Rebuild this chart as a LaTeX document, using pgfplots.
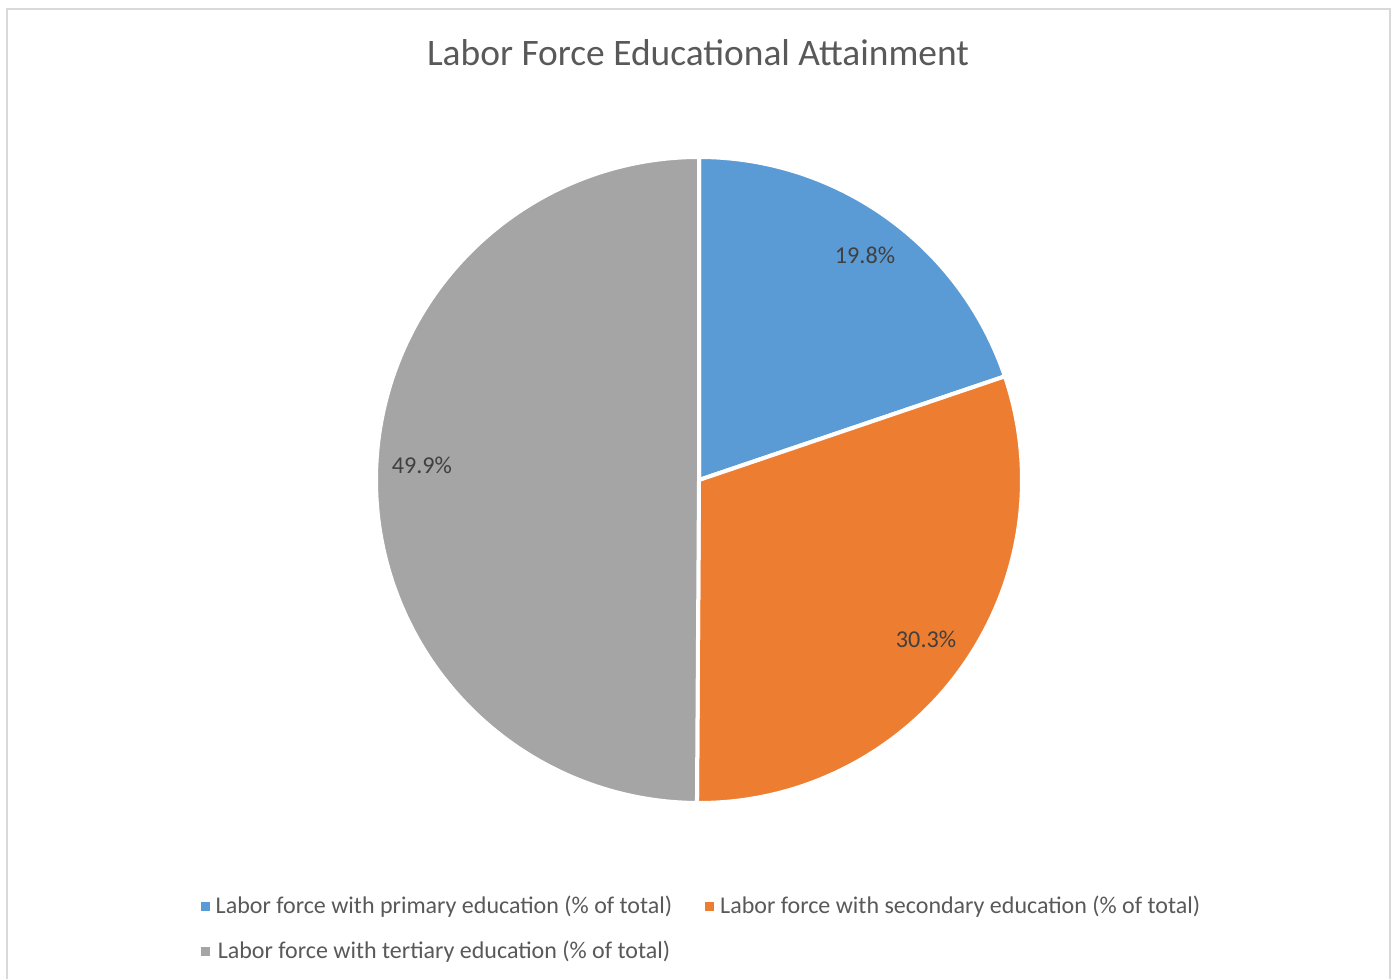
\documentclass[border=0pt]{standalone}
\usepackage{pgfplots}
\usepackage{pgfplotstable}
\pgfplotsset{compat=1.18}
\usepackage{fontspec}
\setmainfont{Carlito}
\definecolor{cblue}{HTML}{5B9BD5}
\definecolor{corange}{HTML}{ED7D31}
\definecolor{cgray}{HTML}{A5A5A5}
\definecolor{titlegray}{HTML}{595959}
\definecolor{labelgray}{HTML}{404040}
\definecolor{framegray}{HTML}{D9D9D9}
\pgfplotstableread{
category value
primary 19.8
secondary 30.3
tertiary 49.9
}\datatable
\pgfplotstablegetelem{0}{value}\of\datatable\let\va\pgfplotsretval
\pgfplotstablegetelem{1}{value}\of\datatable\let\vb\pgfplotsretval
\pgfplotstablegetelem{2}{value}\of\datatable\let\vc\pgfplotsretval
\pgfmathsetmacro\aA{90}
\pgfmathsetmacro\aB{90-3.6*\va}
\pgfmathsetmacro\aC{\aB-3.6*\vb}
\pgfmathsetmacro\aD{\aC-3.6*\vc}
\begin{document}%
\begin{tikzpicture}
\fill[white] (0,0) rectangle (698bp,489.5bp);
\draw[framegray, line width=1bp] (3.5bp,-2bp) -- (3.5bp,485bp) -- (695bp,485bp) -- (695bp,-2bp);
\node[anchor=base, text=titlegray, font=\fontsize{18.7bp}{22bp}\selectfont] at (349bp,456.9bp) {Labor Force Educational Attainment};
\begin{axis}[
  at={(349.5bp,249.5bp)}, anchor=origin,
  x=161.5bp, y=161.5bp,
  xmin=-1, xmax=1, ymin=-1, ymax=1,
  hide axis, clip=false,
  legend columns=2,
  legend image code/.code={\path[#1,draw=none] (0bp,-2.25bp) rectangle (4.5bp,2.25bp);},
  legend style={draw=none, fill=none, inner sep=0pt,
    font=\fontsize{12.0bp}{15bp}\selectfont, text=titlegray,
    at={(-0.272,-0.1407)}, anchor=north west,
    /tikz/every even column/.append style={column sep=13.5bp},
    row sep=10bp,
    nodes={inner ysep=1bp, inner xsep=3bp}},
]
\addplot[fill=cblue, draw=white, line width=2bp, domain=\aB:\aA, samples=120, variable=\t]
  ({cos(t)},{sin(t)}) -- (0,0) -- cycle;
\addlegendentry{Labor force with primary education (\% of total)}
\addplot[fill=corange, draw=white, line width=2bp, domain=\aC:\aB, samples=160, variable=\t]
  ({cos(t)},{sin(t)}) -- (0,0) -- cycle;
\addlegendentry{Labor force with secondary education (\% of total)}
\addplot[fill=cgray, draw=white, line width=2bp, domain=\aD:\aC, samples=240, variable=\t]
  ({cos(t)},{sin(t)}) -- (0,0) -- cycle;
\addlegendentry{Labor force with tertiary education (\% of total)}
\node[anchor=base, text=labelgray, font=\fontsize{12.1bp}{14bp}\selectfont] at (axis cs:0.514,0.669) {19.8\%};
\node[anchor=base, text=labelgray, font=\fontsize{12.1bp}{14bp}\selectfont] at (axis cs:0.703,-0.520) {30.3\%};
\node[anchor=base, text=labelgray, font=\fontsize{12.1bp}{14bp}\selectfont] at (axis cs:-0.858,0.019) {49.9\%};
\end{axis}
\pgfresetboundingbox
\useasboundingbox (0,0) rectangle (698bp,489.5bp);
\end{tikzpicture}%
\end{document}
